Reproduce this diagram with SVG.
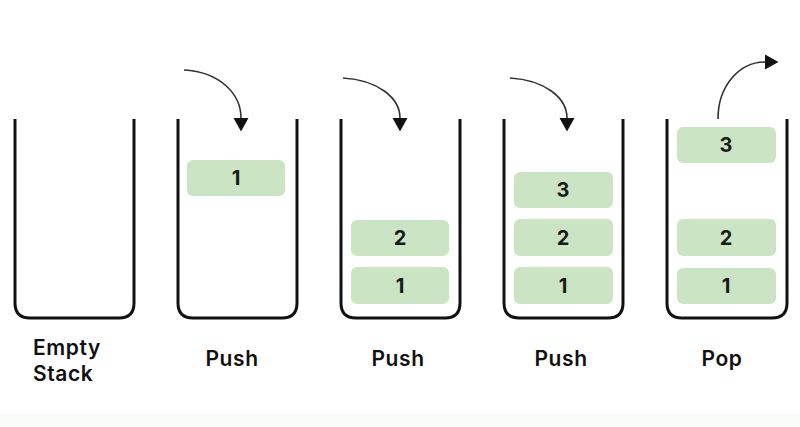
<svg xmlns="http://www.w3.org/2000/svg" width="800" height="427" viewBox="0 0 800 427">
<defs>
<marker id="ah" markerUnits="userSpaceOnUse" markerWidth="14" markerHeight="16" refX="0" refY="8" orient="auto" viewBox="0 0 14 16">
<path d="M0,0.5 L13.5,8 L0,15.5 z" fill="#111"/>
</marker>
<style>
.cup{fill:none;stroke:#111;stroke-width:3;stroke-linecap:butt}
.box{fill:#cbe5c4}
.num{font-family:Inter,"Noto Sans","Liberation Sans",sans-serif;font-weight:700;font-size:20px;fill:#1a1a1a;text-anchor:middle}
.lbl{font-family:Inter,"Noto Sans","Liberation Sans",sans-serif;font-weight:600;font-size:21px;letter-spacing:0.6px;fill:#111;text-anchor:middle}
.arr{fill:none;stroke:#333;stroke-width:1.6;marker-end:url(#ah)}
</style>
</defs>
<rect width="800" height="427" fill="#fff"/>
<rect x="0" y="414" width="800" height="13" fill="#fafcfa"/>

<g id="stack-empty">
<path class="cup" d="M15,119 V303 Q15,318 30,318 H119 Q134,318 134,303 V119"/>
<text class="lbl" x="33" y="355" style="text-anchor:start">Empty</text>
<text class="lbl" x="33" y="381" style="text-anchor:start">Stack</text>
</g>

<g id="stack-push1">
<path class="cup" d="M178,119 V303 Q178,318 193,318 H282 Q297,318 297,303 V119"/>
<rect class="box" x="187" y="160" width="98" height="36" rx="6"/>
<text class="num" x="236" y="185">1</text>
<text class="lbl" x="232" y="366">Push</text>
</g>

<g id="stack-push2">
<path class="cup" d="M341,119 V303 Q341,318 356,318 H445 Q460,318 460,303 V119"/>
<rect class="box" x="351" y="220" width="98" height="36" rx="6"/>
<text class="num" x="400" y="245">2</text>
<rect class="box" x="351" y="267" width="98" height="37" rx="6"/>
<text class="num" x="400" y="293">1</text>
<text class="lbl" x="398" y="366">Push</text>
</g>

<g id="stack-push3">
<path class="cup" d="M504,119 V303 Q504,318 519,318 H608 Q623,318 623,303 V119"/>
<rect class="box" x="514" y="172" width="99" height="36" rx="6"/>
<text class="num" x="563" y="197">3</text>
<rect class="box" x="514" y="219" width="99" height="37" rx="6"/>
<text class="num" x="563" y="245">2</text>
<rect class="box" x="514" y="267" width="99" height="37" rx="6"/>
<text class="num" x="563" y="293">1</text>
<text class="lbl" x="561" y="366">Push</text>
</g>

<g id="stack-pop">
<path class="cup" d="M667,119 V303 Q667,318 682,318 H772 Q787,318 787,303 V119"/>
<rect class="box" x="677" y="127" width="99" height="36" rx="6"/>
<text class="num" x="726" y="152">3</text>
<rect class="box" x="677" y="219" width="99" height="37" rx="6"/>
<text class="num" x="726" y="245">2</text>
<rect class="box" x="677" y="268" width="99" height="36" rx="6"/>
<text class="num" x="726" y="293">1</text>
<text class="lbl" x="722" y="366">Pop</text>
</g>

<g id="connectors">
<path class="arr" d="M184,70 C220,72 241,94 241,118"/>
<path class="arr" d="M343,78 C378,80 400,98 400,118"/>
<path class="arr" d="M510,78 C545,80 567,98 567,118"/>
<path class="arr" d="M718,119 C718,85 740,62 765,62"/>
</g>
</svg>
